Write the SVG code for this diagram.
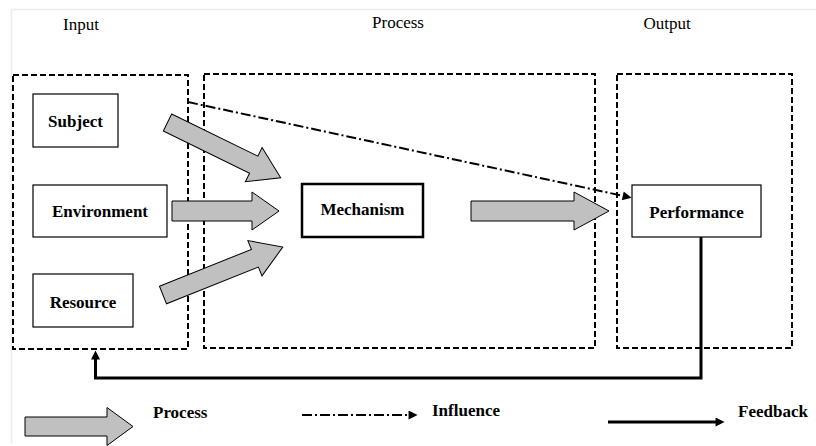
<svg xmlns="http://www.w3.org/2000/svg" width="816" height="446" viewBox="0 0 816 446">
<style>
.frame{fill:none;stroke:#ececec;stroke-width:1.5}
.zone{fill:none;stroke:#000;stroke-width:2;stroke-dasharray:6 3}
.node{fill:#fff;stroke:#000;stroke-width:1.2}
.mech{fill:#fff;stroke:#000;stroke-width:2.5}
.lbl{font-family:"Liberation Serif","Times New Roman",serif;font-size:17px;font-weight:bold;fill:#000;text-anchor:middle}
.hdr{font-family:"Liberation Serif","Times New Roman",serif;font-size:17px;fill:#000;text-anchor:middle}
.leg{font-family:"Liberation Serif","Times New Roman",serif;font-size:17px;font-weight:bold;fill:#000}
.parrow{fill:#c0c0c0;stroke:#000;stroke-width:1}
.infl{fill:none;stroke:#000;stroke-width:2;stroke-dasharray:10 3 2 3}
.fb{fill:none;stroke:#000;stroke-width:3}
</style>
<defs>
<marker id="head" viewBox="0 0 10 10" refX="0.5" refY="5" markerWidth="10" markerHeight="9" markerUnits="userSpaceOnUse" orient="auto">
<path d="M0,0 L10,5 L0,10 z" fill="#000"/>
</marker>
</defs>
<path class="frame" d="M11.5,444 V9.5 H816"/>
<g id="headers">
<text class="hdr" x="81" y="30">Input</text>
<text class="hdr" x="398" y="28">Process</text>
<text class="hdr" x="667" y="29">Output</text>
</g>
<g id="zones">
<rect id="zone-input" class="zone" x="13" y="75" width="175" height="274"/>
<rect id="zone-process" class="zone" x="204" y="74" width="391" height="274"/>
<rect id="zone-output" class="zone" x="617" y="74" width="175" height="274"/>
</g>
<g id="subject"><rect class="node" x="33" y="94" width="85" height="53"/><text class="lbl" x="75.5" y="127">Subject</text></g>
<g id="environment"><rect class="node" x="33" y="185" width="134" height="52"/><text class="lbl" x="100" y="217">Environment</text></g>
<g id="resource"><rect class="node" x="33" y="274" width="100" height="53"/><text class="lbl" x="83" y="308">Resource</text></g>
<g id="mechanism"><rect class="mech" x="302" y="184" width="121" height="53"/><text class="lbl" x="362.5" y="215">Mechanism</text></g>
<g id="performance"><rect class="node" x="632" y="185" width="129" height="52"/><text class="lbl" x="696.5" y="218">Performance</text></g>
<g id="connectors">
<polygon class="parrow" transform="translate(167.5,122.5) rotate(26.06)" points="0,-9.5 96,-9.5 96,-19 126,0 96,19 96,9.5 0,9.5"/>
<polygon class="parrow" transform="translate(172,211)" points="0,-10 80,-10 80,-19 107,0 80,19 80,10 0,10"/>
<polygon class="parrow" transform="translate(163,295) rotate(-21.8)" points="0,-9.5 99,-9.5 99,-19 129,0 99,19 99,9.5 0,9.5"/>
<polygon class="parrow" transform="translate(471,211)" points="0,-10 103,-10 103,-19 138,0 103,19 103,10 0,10"/>
<path class="infl" d="M188,102 L623.2,195.9" marker-end="url(#head)"/>
<path class="fb" d="M701,237 V378 H95.5 V359" marker-end="url(#head)"/>
</g>
<g id="legend">
<polygon class="parrow" transform="translate(25,426.5)" points="0,-9.5 82,-9.5 82,-19 108,0 82,19 82,9.5 0,9.5"/>
<text class="leg" x="153" y="418">Process</text>
<path class="infl" d="M302,415 H409" marker-end="url(#head)"/>
<text class="leg" x="432" y="416">Influence</text>
<path class="fb" d="M608,422 H716" marker-end="url(#head)"/>
<text class="leg" x="738" y="417">Feedback</text>
</g>
</svg>
